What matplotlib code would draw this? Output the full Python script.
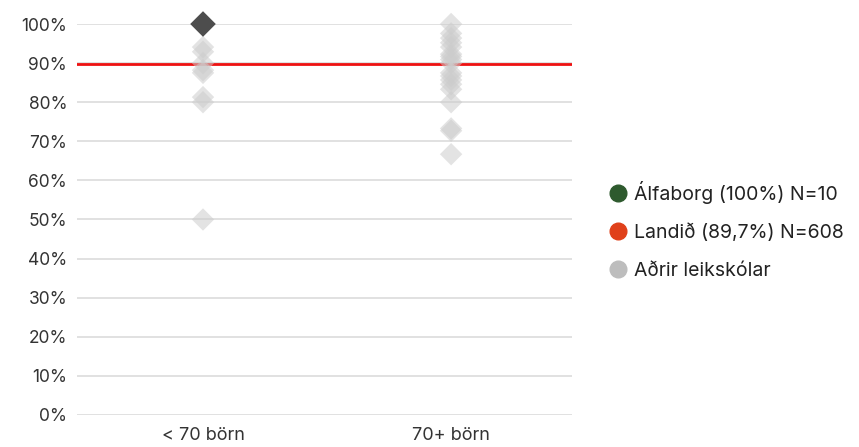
import matplotlib
matplotlib.use("Agg")
import matplotlib.pyplot as plt
from matplotlib.lines import Line2D

plt.rcParams['font.family'] = ['Inter', 'DejaVu Sans']

categories = ["< 70 börn", "70+ börn"]
others_small = [94.1, 92.9, 90.0, 88.2, 87.5, 81.3, 80.0, 50.0]
others_large = [100.0, 97.6, 96.4, 95.2, 94.1, 92.3, 91.7, 90.9, 90.0, 87.5,
                86.7, 85.7, 84.6, 83.3, 80.0, 73.3, 72.7, 66.7]
school_cat = 0
school_value = 100.0
national_value = 89.7
yticks = list(range(0, 101, 10))
legend_labels = ["Álfaborg (100%) N=10", "Landið (89,7%) N=608", "Aðrir leikskólar"]

fig = plt.figure(figsize=(8.59, 4.47), dpi=100)
ax = fig.add_axes([0.0896, 0.0716, 0.5765, 0.8747])

for i, vals in enumerate([others_small, others_large]):
    ax.scatter([i] * len(vals), vals, marker='D', s=130, color='#cccccc',
               alpha=0.55, edgecolors='none', zorder=3, clip_on=False)
ax.scatter([school_cat], [school_value], marker='D', s=170, color='#4d4d4d',
           edgecolors='none', zorder=4, clip_on=False)
ax.axhline(national_value, color='#ee1111', lw=2, zorder=2)

ax.set_xlim(-0.508, 1.488)
ax.set_ylim(0, 100)
ax.set_yticks(yticks)
ax.set_yticklabels([f"{t}%" for t in yticks])
ax.set_xticks([0, 1])
ax.set_xticklabels(categories)
ax.grid(axis='y', color='#dcdcdc', lw=1.2, zorder=0)
for s in ax.spines.values():
    s.set_visible(False)
ax.tick_params(axis='both', length=0, labelsize=12.5, colors='#333333')
ax.tick_params(axis='y', pad=7)
ax.tick_params(axis='x', pad=9, labelsize=13)

handles = [Line2D([], [], marker='o', ls='none', ms=12, color=c)
           for c in ['#2e5a2e', '#e0401a', '#bdbdbd']]
fig.legend(handles, legend_labels, loc='center left', bbox_to_anchor=(0.686, 0.485),
           frameon=False, fontsize=14, handletextpad=0.2, labelspacing=1.0,
           handlelength=1.2, labelcolor='#222222')

fig.savefig("out.png", dpi=100, facecolor='white')
